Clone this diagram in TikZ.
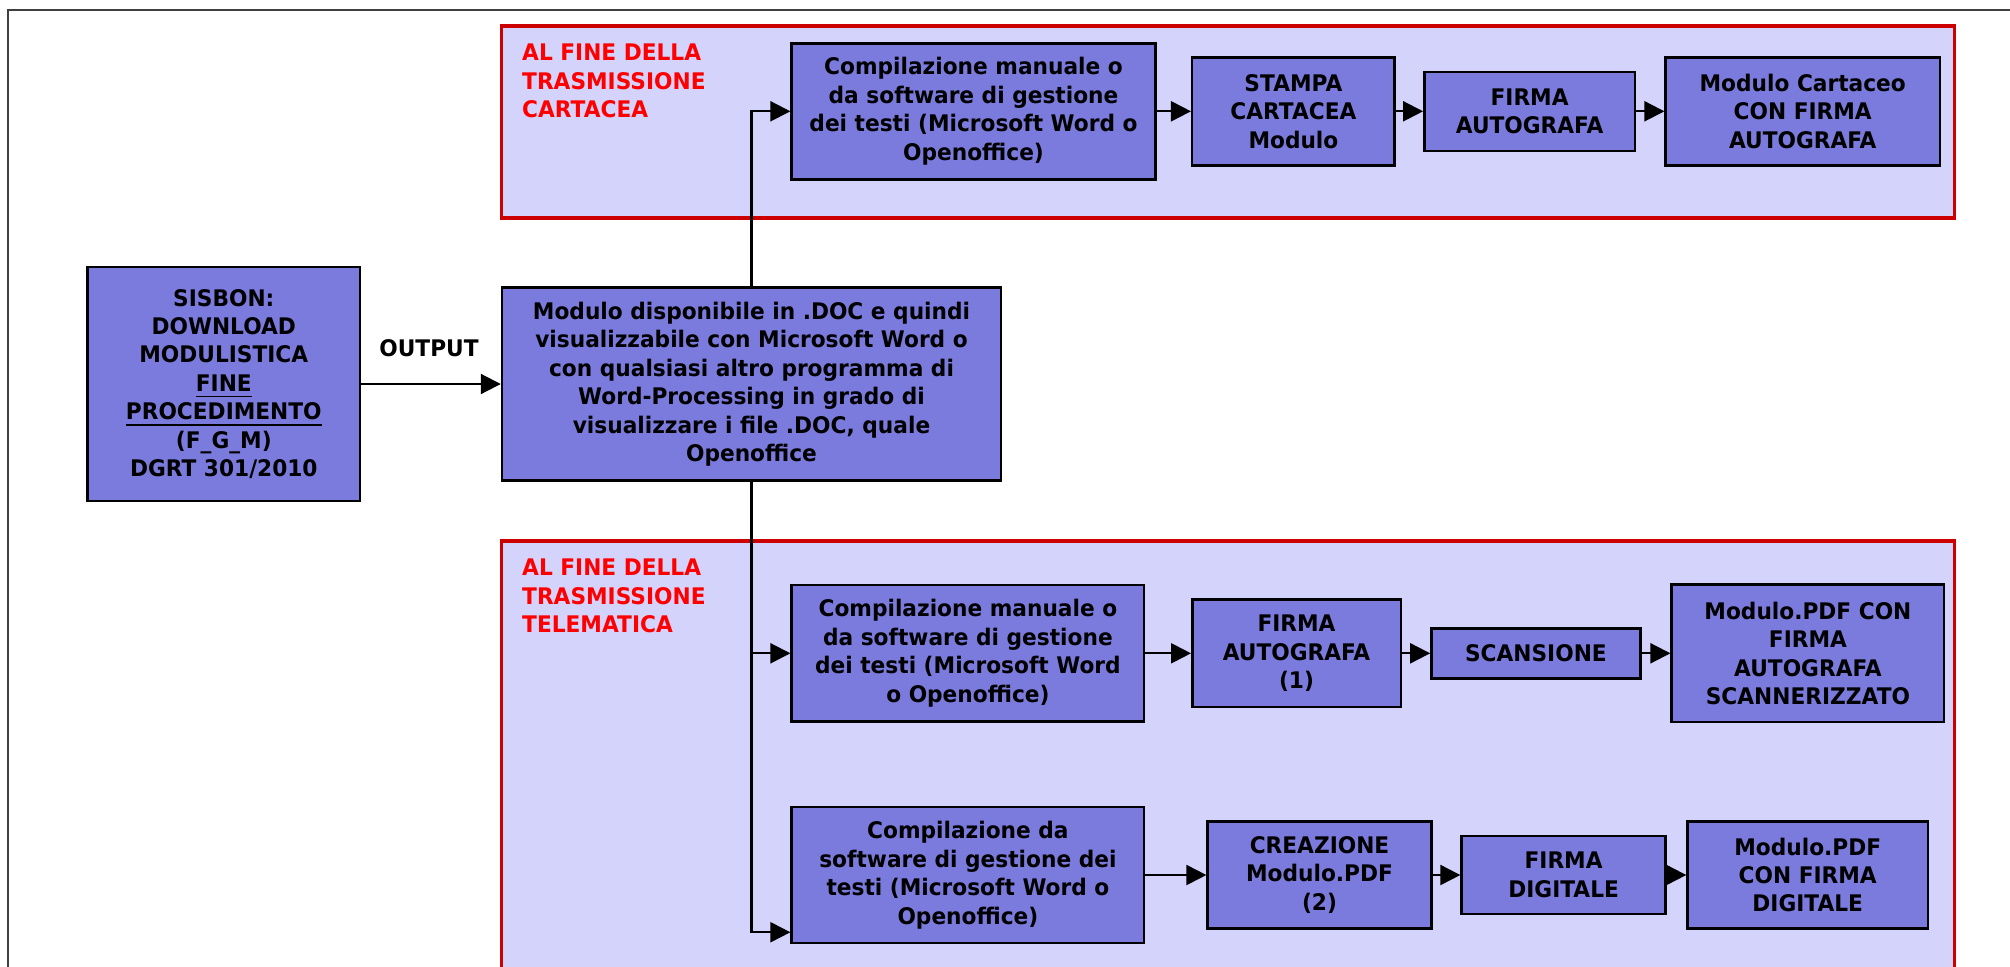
\documentclass[tikz,border=0pt]{standalone}
\usepackage{fontspec}
\setmainfont{DejaVu Sans}[FakeStretch=0.95]
\usetikzlibrary{arrows.meta}
\definecolor{boxblue}{RGB}{123,123,222}
\definecolor{panelblue}{RGB}{211,211,252}
\definecolor{panelred}{RGB}{204,0,0}
\definecolor{lblred}{RGB}{255,0,0}

\begin{document}
\begin{tikzpicture}[
box/.style={draw=black, fill=boxblue, line width=0.7pt, inner sep=0pt, align=center, font=\bfseries\fontsize{6.5}{8.1}\selectfont},
arr/.style={line width=0.6pt, -{Triangle[length=0.2cm,width=0.2cm]}},
panel/.style={draw=panelred, fill=panelblue, line width=0.9pt},
lbl/.style={text=lblred, inner sep=0pt, align=left, anchor=north west, font=\bfseries\fontsize{6.5}{8.1}\selectfont}
]
\useasboundingbox (0,0) rectangle (20.1,9.66);
\draw[black!75, line width=0.6pt] (0.083,-1) rectangle (21,9.56);
\draw[panel] (5.014,9.40) rectangle (19.541,7.48);
\draw[panel] (5.014,4.25) rectangle (19.541,-1);

\node[lbl](lc) at(5.215,9.227) {AL FINE DELLA\\TRASMISSIONE\\CARTACEA};
\node[lbl](lt) at(5.215,4.077) {AL FINE DELLA\\TRASMISSIONE\\TELEMATICA};

\node[box, minimum width=2.725cm, minimum height=2.34cm](sis) at(2.238,5.82) {SISBON:\\DOWNLOAD\\MODULISTICA\\\underline{FINE}\\\underline{PROCEDIMENTO}\\(F\_G\_M)\\DGRT 301/2010};
\node[box, minimum width=4.99cm, minimum height=1.933cm](doc) at(7.515,5.82) {Modulo disponibile in .DOC e quindi\\visualizzabile con Microsoft Word o\\con qualsiasi altro programma di\\Word-Processing in grado di\\visualizzare i file .DOC, quale\\Openoffice};
\node[font=\bfseries\fontsize{6.5}{8.1}\selectfont, inner sep=0pt](out) at(4.29,6.177) {OUTPUT};

\node[box, minimum width=3.638cm, minimum height=1.36cm](c1) at(9.735,8.547) {Compilazione manuale o\\da software di gestione\\dei testi (Microsoft Word o\\Openoffice)};
\node[box, minimum width=2.024cm, minimum height=1.08cm](st) at(12.934,8.547) {STAMPA\\CARTACEA\\Modulo};
\node[box, minimum width=2.106cm, minimum height=0.79cm](fa) at(15.296,8.547) {FIRMA\\AUTOGRAFA};
\node[box, minimum width=2.742cm, minimum height=1.08cm](mc) at(18.027,8.547) {Modulo Cartaceo\\CON FIRMA\\AUTOGRAFA};

\node[box, minimum width=3.526cm, minimum height=1.367cm](t1) at(9.679,3.127) {Compilazione manuale o\\da software di gestione\\dei testi (Microsoft Word\\o Openoffice)};
\node[box, minimum width=2.085cm, minimum height=1.077cm](fa1) at(12.965,3.127) {FIRMA\\AUTOGRAFA\\(1)};
\node[box, minimum width=2.09cm, minimum height=0.5cm](sc) at(15.359,3.127) {SCANSIONE};
\node[box, minimum width=2.726cm, minimum height=1.373cm](mp) at(18.079,3.127) {Modulo.PDF CON\\FIRMA\\AUTOGRAFA\\SCANNERIZZATO};

\node[box, minimum width=3.526cm, minimum height=1.36cm](t2) at(9.679,0.91) {Compilazione da\\software di gestione dei\\testi (Microsoft Word o\\Openoffice)};
\node[box, minimum width=2.238cm, minimum height=1.073cm](cr) at(13.195,0.91) {CREAZIONE\\Modulo.PDF\\(2)};
\node[box, minimum width=2.041cm, minimum height=0.784cm](fd) at(15.636,0.91) {FIRMA\\DIGITALE};
\node[box, minimum width=2.403cm, minimum height=1.073cm](md) at(18.077,0.91) {Modulo.PDF\\CON FIRMA\\DIGITALE};

\draw[arr] (sis) -- (doc);
\draw[arr] (doc.north) |- (c1.west);
\draw[arr] (doc.south) |- (t1.west);
\draw[arr] (doc.south) |- ([yshift=0.12cm]t2.south west);

\draw[arr] (c1) -- (st);
\draw[arr] (st) -- (fa);
\draw[arr] (fa) -- (mc);

\draw[arr] (t1) -- (fa1);
\draw[arr] (fa1) -- (sc);
\draw[arr] (sc) -- (mp);

\draw[arr] (t2) -- (cr);
\draw[arr] (cr) -- (fd);
\draw[arr] (fd) -- (md);

\end{tikzpicture}
\end{document}
